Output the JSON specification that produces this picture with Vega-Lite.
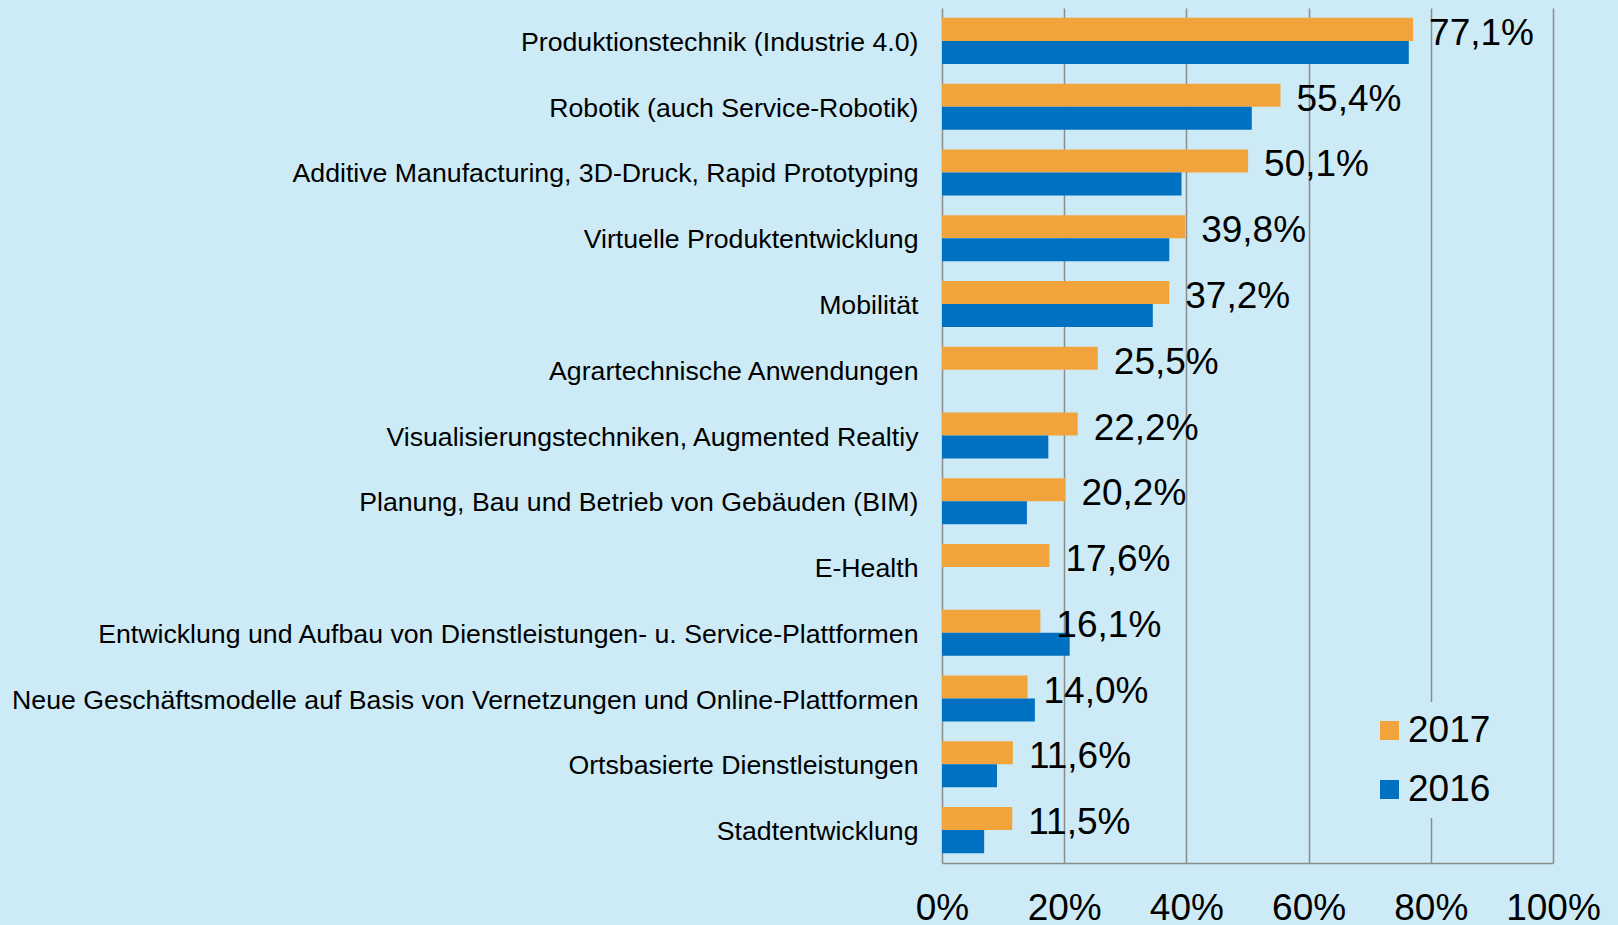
{
  "$schema": "https://vega.github.io/schema/vega-lite/v6.json",
  "width": 611,
  "height": 855,
  "autosize": "none",
  "padding": {"left": 942, "top": 8, "right": 65, "bottom": 62},
  "background": "#CDEBF6",
  "config": {
    "view": {"stroke": null},
    "font": "Liberation Sans",
    "locale": {"number": {"decimal": ",", "thousands": ".", "grouping": [3], "currency": ["", " €"]}}
  },
  "data": {"values": [
    {"category": "Produktionstechnik (Industrie 4.0)", "year": "2017", "value": 0.771},
    {"category": "Produktionstechnik (Industrie 4.0)", "year": "2016", "value": 0.764},
    {"category": "Robotik (auch Service-Robotik)", "year": "2017", "value": 0.554},
    {"category": "Robotik (auch Service-Robotik)", "year": "2016", "value": 0.507},
    {"category": "Additive Manufacturing, 3D-Druck, Rapid Prototyping", "year": "2017", "value": 0.501},
    {"category": "Additive Manufacturing, 3D-Druck, Rapid Prototyping", "year": "2016", "value": 0.392},
    {"category": "Virtuelle Produktentwicklung", "year": "2017", "value": 0.398},
    {"category": "Virtuelle Produktentwicklung", "year": "2016", "value": 0.372},
    {"category": "Mobilität", "year": "2017", "value": 0.372},
    {"category": "Mobilität", "year": "2016", "value": 0.345},
    {"category": "Agrartechnische Anwendungen", "year": "2017", "value": 0.255},
    {"category": "Visualisierungstechniken, Augmented Realtiy", "year": "2017", "value": 0.222},
    {"category": "Visualisierungstechniken, Augmented Realtiy", "year": "2016", "value": 0.174},
    {"category": "Planung, Bau und Betrieb von Gebäuden (BIM)", "year": "2017", "value": 0.202},
    {"category": "Planung, Bau und Betrieb von Gebäuden (BIM)", "year": "2016", "value": 0.139},
    {"category": "E-Health", "year": "2017", "value": 0.176},
    {"category": "Entwicklung und Aufbau von Dienstleistungen- u. Service-Plattformen", "year": "2017", "value": 0.161},
    {"category": "Entwicklung und Aufbau von Dienstleistungen- u. Service-Plattformen", "year": "2016", "value": 0.209},
    {"category": "Neue Geschäftsmodelle auf Basis von Vernetzungen und Online-Plattformen", "year": "2017", "value": 0.140},
    {"category": "Neue Geschäftsmodelle auf Basis von Vernetzungen und Online-Plattformen", "year": "2016", "value": 0.152},
    {"category": "Ortsbasierte Dienstleistungen", "year": "2017", "value": 0.116},
    {"category": "Ortsbasierte Dienstleistungen", "year": "2016", "value": 0.090},
    {"category": "Stadtentwicklung", "year": "2017", "value": 0.115},
    {"category": "Stadtentwicklung", "year": "2016", "value": 0.069}
  ]},
  "encoding": {
    "y": {
      "field": "category",
      "type": "nominal",
      "sort": null,
      "scale": {"paddingInner": 0.3, "paddingOuter": 0.15},
      "axis": {
        "title": null,
        "ticks": false,
        "domain": false,
        "labelFontSize": 26.7,
        "labelColor": "#000000",
        "labelPadding": 24,
        "labelOffset": 2,
        "labelLimit": 0
      }
    }
  },
  "layer": [
    {
      "mark": {"type": "bar"},
      "encoding": {
        "x": {
          "field": "value",
          "type": "quantitative",
          "scale": {"domain": [0, 1], "nice": false},
          "axis": {
            "title": null,
            "values": [0, 0.2, 0.4, 0.6, 0.8, 1],
            "format": ".0%",
            "grid": true,
            "gridColor": "#8C8C8C",
            "gridWidth": 1.5,
            "gridOpacity": 1,
            "domainColor": "#8C8C8C",
            "domainWidth": 1.5,
            "ticks": false,
            "labelFontSize": 37,
            "labelColor": "#000000",
            "labelPadding": 27,
            "labelOverlap": false,
            "labelFlush": false,
            "labelBound": false
          }
        },
        "yOffset": {"field": "year", "type": "nominal", "sort": ["2017", "2016"]},
        "color": {
          "field": "year",
          "type": "nominal",
          "scale": {"domain": ["2017", "2016"], "range": ["#F2A43C", "#0070C0"]},
          "legend": {
            "title": null,
            "orient": "none",
            "legendX": 419,
            "legendY": 694,
            "fillColor": "#CDEBF6",
            "padding": 10,
            "symbolType": "square",
            "symbolSize": 361,
            "symbolStrokeWidth": 0,
            "labelFontSize": 37,
            "labelColor": "#000000",
            "labelOffset": 0,
            "rowPadding": 21
          }
        }
      }
    },
    {
      "transform": [{"filter": "datum.year === '2017'"}],
      "mark": {"type": "text", "align": "left", "baseline": "middle", "dx": 16, "dy": -7, "fontSize": 37, "color": "#000000"},
      "encoding": {
        "x": {"field": "value", "type": "quantitative"},
        "text": {"field": "value", "type": "quantitative", "format": ".1%"}
      }
    }
  ]
}
